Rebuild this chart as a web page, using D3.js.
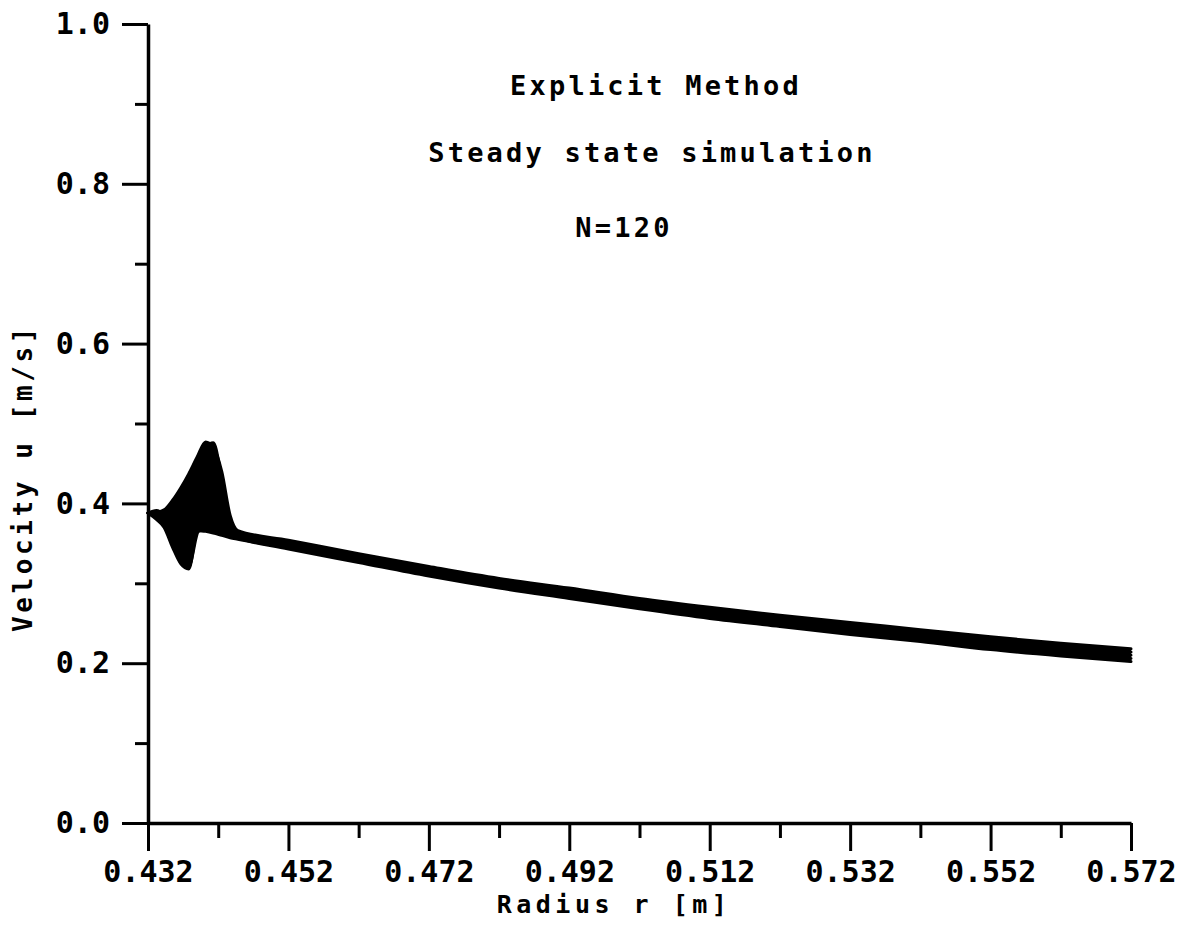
<!DOCTYPE html>
<html><head><meta charset="utf-8">
<script src="https://cdn.jsdelivr.net/npm/d3@7/dist/d3.min.js"></script>
<style>body{margin:0;background:#fff}svg{display:block}</style>
</head><body>
<svg id="chart" width="1186" height="928"></svg>
<script>
// ---- data ----
const radius = [0.4320,0.4332,0.4343,0.4355,0.4367,0.4378,0.4390,0.4402,0.4413,0.4425,0.4437,0.4448,
                0.452,0.462,0.472,0.482,0.492,0.502,0.512,0.522,0.532,0.542,0.552,0.562,0.572];
const snapshot1 = [0.388,0.389,0.392,0.404,0.420,0.437,0.458,0.477,0.470,0.440,0.385,0.366,
                   0.354,0.337,0.321,0.306,0.294,0.281,0.270,0.260,0.251,0.242,0.233,0.225,0.218];
const snapshot2 = [0.388,0.391,0.388,0.398,0.412,0.430,0.452,0.470,0.476,0.432,0.380,0.364,
                   0.351,0.334,0.318,0.303,0.290,0.277,0.267,0.257,0.247,0.238,0.229,0.221,0.214];
const snapshot3 = [0.388,0.380,0.370,0.345,0.324,0.318,0.372,0.400,0.410,0.390,0.368,0.360,
                   0.348,0.331,0.315,0.300,0.287,0.274,0.263,0.253,0.243,0.234,0.225,0.217,0.210];
const snapshot4 = [0.388,0.383,0.376,0.352,0.328,0.321,0.362,0.385,0.395,0.380,0.362,0.357,
                   0.345,0.328,0.312,0.297,0.284,0.271,0.260,0.250,0.239,0.230,0.221,0.213,0.206];
const snapshot5 = [0.388,0.386,0.382,0.378,0.374,0.370,0.366,0.365,0.363,0.360,0.357,0.355,
                   0.343,0.326,0.309,0.294,0.281,0.268,0.256,0.246,0.236,0.227,0.217,0.209,0.202];
const snapshots = [snapshot1, snapshot2, snapshot3, snapshot4, snapshot5];

const xTickValues = [0.432,0.452,0.472,0.492,0.512,0.532,0.552,0.572];
const xMinorTicks = [0.442,0.462,0.482,0.502,0.522,0.542,0.562];
const yTickValues = [0.0,0.2,0.4,0.6,0.8,1.0];
const yMinorTicks = [0.1,0.3,0.5,0.7,0.9];
const titleLines = ["Explicit Method","Steady state simulation","N=120"];
const xTitle = "Radius r [m]";
const yTitle = "Velocity u [m/s]";

// ---- layout ----
const svg = d3.select("#chart");
const FONT = "'DejaVu Sans Mono', 'Liberation Mono', monospace";
const x = d3.scaleLinear().domain([0.432, 0.572]).range([148, 1131]);
const y = d3.scaleLinear().domain([0, 1]).range([823, 24]);

// band envelope + snapshot lines
const env = radius.map((r, i) => ({
  r, lo: d3.min(snapshots, s => s[i]), hi: d3.max(snapshots, s => s[i])
}));
svg.append("path").datum(env)
  .attr("d", d3.area().curve(d3.curveMonotoneX).x(d => x(d.r)).y0(d => y(d.lo)).y1(d => y(d.hi)))
  .attr("fill", "#000");
const line = d3.line().curve(d3.curveMonotoneX).x((d, i) => x(radius[i])).y(d => y(d));
svg.selectAll("path.snap").data(snapshots).join("path")
  .attr("class", "snap")
  .attr("d", line)
  .attr("fill", "none").attr("stroke", "#000")
  .attr("stroke-width", 3).attr("stroke-linejoin", "round").attr("stroke-linecap", "round");

// axes
function styleAxis(g) {
  g.select(".domain").attr("stroke", "#000").attr("stroke-width", 3.5);
  g.selectAll(".tick line").attr("stroke", "#000").attr("stroke-width", 3);
  g.selectAll(".tick text").attr("fill", "#000")
    .style("font-family", FONT).style("font-weight", "bold").style("font-size", "30px");
}
svg.append("g").attr("transform", `translate(0,${y(0)})`)
  .call(d3.axisBottom(x).tickValues(xMinorTicks).tickSize(15).tickFormat(""))
  .call(g => { g.select(".domain").remove(); g.selectAll(".tick line").attr("stroke","#000").attr("stroke-width",3); });
svg.append("g").attr("transform", `translate(${x(0.432)},0)`)
  .call(d3.axisLeft(y).tickValues(yMinorTicks).tickSize(13).tickFormat(""))
  .call(g => { g.select(".domain").remove(); g.selectAll(".tick line").attr("stroke","#000").attr("stroke-width",3); });

svg.append("g").attr("transform", `translate(0,${y(0)})`)
  .call(d3.axisBottom(x).tickValues(xTickValues).tickSize(28).tickSizeOuter(0)
        .tickPadding(10).tickFormat(d3.format(".3f")))
  .call(styleAxis);
svg.append("g").attr("transform", `translate(${x(0.432)},0)`)
  .call(d3.axisLeft(y).tickValues(yTickValues).tickSize(26).tickSizeOuter(0)
        .tickPadding(12).tickFormat(d3.format(".1f")))
  .call(styleAxis);

// titles
const titlePos = [{cx: 656, by: 95}, {cx: 652, by: 162}, {cx: 624, by: 237}];
svg.selectAll("text.title").data(titleLines).join("text")
  .attr("class", "title")
  .attr("x", (d, i) => titlePos[i].cx).attr("y", (d, i) => titlePos[i].by)
  .attr("text-anchor", "middle")
  .style("font-family", FONT).style("font-weight", "bold").style("font-size", "27px")
  .style("letter-spacing", "3.2px")
  .text(d => d);

svg.append("text").attr("x", 614).attr("y", 913).attr("text-anchor", "middle")
  .style("font-family", FONT).style("font-weight", "bold").style("font-size", "25px")
  .style("letter-spacing", "4.5px").text(xTitle);
svg.append("text").attr("transform", "translate(32,478) rotate(-90)").attr("text-anchor", "middle")
  .style("font-family", FONT).style("font-weight", "bold").style("font-size", "26px")
  .style("letter-spacing", "3.6px").text(yTitle);
</script>
</body></html>
